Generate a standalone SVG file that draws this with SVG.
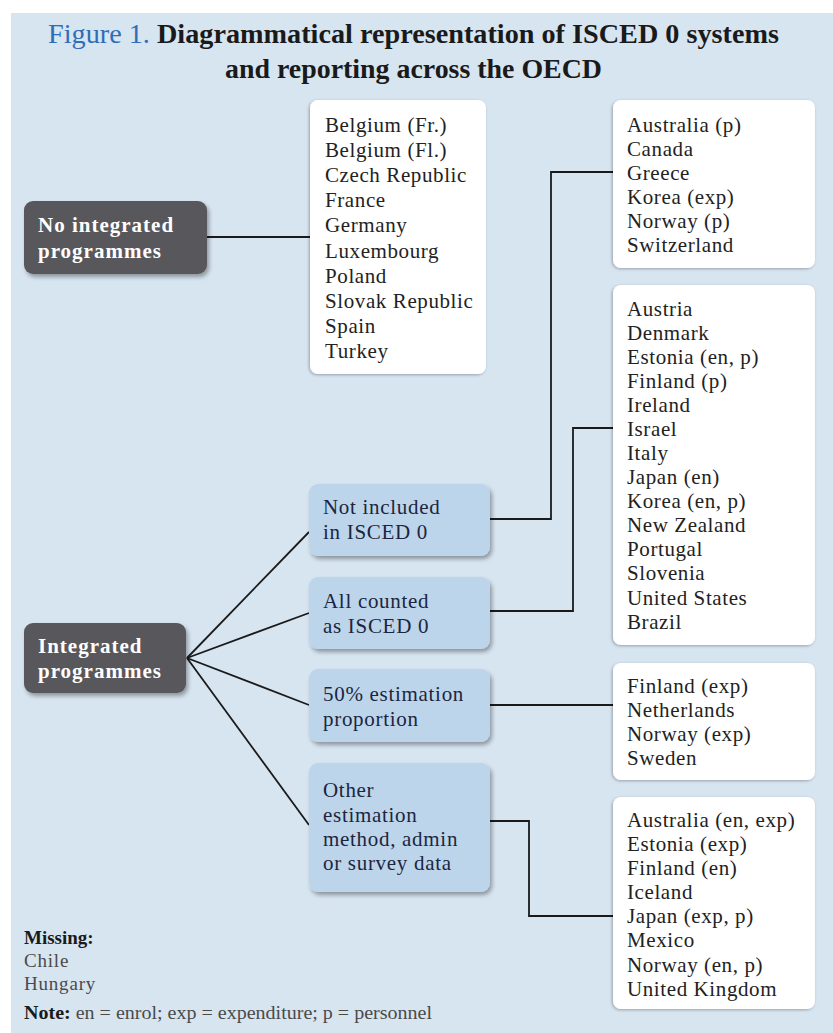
<svg xmlns="http://www.w3.org/2000/svg" width="833" height="1033" viewBox="0 0 833 1033">
<defs>
<filter id="sh" x="-10%" y="-10%" width="125%" height="130%">
<feDropShadow dx="2" dy="3" stdDeviation="2" flood-color="#000" flood-opacity="0.35"/>
</filter>
<filter id="shw" x="-10%" y="-10%" width="125%" height="125%">
<feDropShadow dx="-1" dy="1" stdDeviation="1.5" flood-color="#000" flood-opacity="0.3"/>
</filter>
</defs>
<style>
text{font-family:"Liberation Serif","Times New Roman",serif;}
.dark rect{fill:#59595b;}
.dark text{fill:#ffffff;font-weight:bold;font-size:21px;letter-spacing:1px;}
.mid rect{fill:#bdd5ea;}
.mid text{fill:#1c2540;font-size:21px;letter-spacing:0.7px;}
.list rect{fill:#ffffff;}
.list text{fill:#222222;font-size:21px;letter-spacing:0.6px;}
.conn{fill:none;stroke:#1a1a1a;stroke-width:1.8;}
.foot{font-size:19px;}
.country{fill:#4a4a4a;letter-spacing:0.8px;}
</style>
<rect x="0" y="0" width="833" height="1033" fill="#ffffff"/>
<rect x="11" y="13" width="822" height="1020" fill="#d7e5f1"/>
<g id="title">
<text x="48" y="43" font-size="27" textLength="731" lengthAdjust="spacingAndGlyphs"><tspan fill="#2e6db8">Figure 1. </tspan><tspan fill="#1a1a1a" font-weight="bold">Diagrammatical representation of ISCED 0 systems</tspan></text>
<text x="225" y="78" font-size="27" fill="#1a1a1a" font-weight="bold" textLength="377" lengthAdjust="spacingAndGlyphs">and reporting across the OECD</text>
</g>
<g id="connectors" class="conn">
<line x1="207" y1="237" x2="311" y2="237"/>
<line x1="187" y1="658" x2="309" y2="532"/>
<line x1="187" y1="658" x2="309" y2="613"/>
<line x1="187" y1="658" x2="309" y2="705"/>
<line x1="187" y1="658" x2="309" y2="825"/>
<polyline points="490,519 551,519 551,172 613,172"/>
<polyline points="490,611 573,611 573,428 613,428"/>
<line x1="490" y1="705" x2="613" y2="705"/>
<polyline points="490,821 529,821 529,916 613,916"/>
</g>
<g id="no-integrated" class="dark">
<rect x="24" y="201" width="183" height="73" rx="9" filter="url(#sh)"/>
<text x="38" y="232">No integrated</text>
<text x="38" y="258">programmes</text>
</g>
<g id="integrated" class="dark">
<rect x="24" y="623" width="162" height="70" rx="9" filter="url(#sh)"/>
<text x="38" y="653">Integrated</text>
<text x="38" y="678">programmes</text>
</g>
<g id="list-no-integrated" class="list">
<rect x="310" y="100" width="176" height="274" rx="8" filter="url(#shw)"/>
<text x="325" y="132">Belgium (Fr.)</text>
<text x="325" y="157">Belgium (Fl.)</text>
<text x="325" y="182">Czech Republic</text>
<text x="325" y="207">France</text>
<text x="325" y="232">Germany</text>
<text x="325" y="258">Luxembourg</text>
<text x="325" y="283">Poland</text>
<text x="325" y="308">Slovak Republic</text>
<text x="325" y="333">Spain</text>
<text x="325" y="358">Turkey</text>
</g>
<g id="not-included" class="mid">
<rect x="309" y="484" width="181" height="72" rx="9" filter="url(#sh)"/>
<text x="323" y="514">Not included</text>
<text x="323" y="539">in ISCED 0</text>
</g>
<g id="all-counted" class="mid">
<rect x="309" y="577" width="181" height="72" rx="9" filter="url(#sh)"/>
<text x="323" y="608">All counted</text>
<text x="323" y="633">as ISCED 0</text>
</g>
<g id="fifty-percent" class="mid">
<rect x="309" y="669" width="181" height="73" rx="9" filter="url(#sh)"/>
<text x="323" y="701">50% estimation</text>
<text x="323" y="726">proportion</text>
</g>
<g id="other-estimation" class="mid">
<rect x="309" y="763" width="181" height="129" rx="9" filter="url(#sh)"/>
<text x="323" y="797">Other</text>
<text x="323" y="822">estimation</text>
<text x="323" y="846">method, admin</text>
<text x="323" y="870">or survey data</text>
</g>
<g id="list-not-included" class="list">
<rect x="613" y="100" width="202" height="168" rx="8" filter="url(#shw)"/>
<text x="627" y="132">Australia (p)</text>
<text x="627" y="156">Canada</text>
<text x="627" y="180">Greece</text>
<text x="627" y="204">Korea (exp)</text>
<text x="627" y="228">Norway (p)</text>
<text x="627" y="252">Switzerland</text>
</g>
<g id="list-all-counted" class="list">
<rect x="613" y="285" width="202" height="360" rx="8" filter="url(#shw)"/>
<text x="627" y="316">Austria</text>
<text x="627" y="340">Denmark</text>
<text x="627" y="364">Estonia (en, p)</text>
<text x="627" y="388">Finland (p)</text>
<text x="627" y="412">Ireland</text>
<text x="627" y="436">Israel</text>
<text x="627" y="460">Italy</text>
<text x="627" y="484">Japan (en)</text>
<text x="627" y="508">Korea (en, p)</text>
<text x="627" y="532">New Zealand</text>
<text x="627" y="556">Portugal</text>
<text x="627" y="580">Slovenia</text>
<text x="627" y="605">United States</text>
<text x="627" y="629">Brazil</text>
</g>
<g id="list-fifty-percent" class="list">
<rect x="613" y="663" width="202" height="117" rx="8" filter="url(#shw)"/>
<text x="627" y="693">Finland (exp)</text>
<text x="627" y="717">Netherlands</text>
<text x="627" y="741">Norway (exp)</text>
<text x="627" y="765">Sweden</text>
</g>
<g id="list-other" class="list">
<rect x="613" y="797" width="202" height="212" rx="8" filter="url(#shw)"/>
<text x="627" y="827">Australia (en, exp)</text>
<text x="627" y="851">Estonia (exp)</text>
<text x="627" y="875">Finland (en)</text>
<text x="627" y="899">Iceland</text>
<text x="627" y="923">Japan (exp, p)</text>
<text x="627" y="947">Mexico</text>
<text x="627" y="972">Norway (en, p)</text>
<text x="627" y="996">United Kingdom</text>
</g>
<g id="footnotes">
<text class="foot" x="24" y="944" font-weight="bold" fill="#1a1a1a">Missing:</text>
<text class="foot country" x="24" y="967">Chile</text>
<text class="foot country" x="24" y="990">Hungary</text>
<text x="24" y="1019" font-size="18" textLength="408" lengthAdjust="spacingAndGlyphs"><tspan font-weight="bold" fill="#1a1a1a">Note:</tspan><tspan fill="#4a4a4a"> en = enrol; exp = expenditure; p = personnel</tspan></text>
</g>
</svg>
